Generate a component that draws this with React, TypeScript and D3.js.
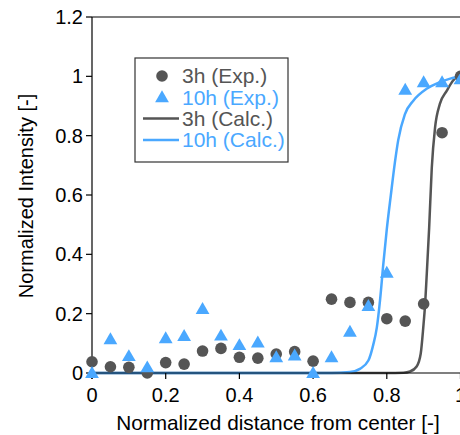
import React from 'react';
import * as d3 from 'd3';

// distances (normalized) where samples were taken
const distances = [0, 0.05, 0.1, 0.15, 0.2, 0.25, 0.3, 0.35, 0.4, 0.45, 0.5, 0.55, 0.6, 0.65, 0.7, 0.75, 0.8, 0.85, 0.9, 0.95, 1.0];
const exp3h = [0.038, 0.021, 0.019, 0.0, 0.035, 0.03, 0.074, 0.083, 0.053, 0.05, 0.064, 0.072, 0.04, 0.249, 0.238, 0.238, 0.183, 0.175, 0.233, 0.81, 1.0];
const exp10h = [0.0, 0.114, 0.057, 0.019, 0.117, 0.125, 0.216, 0.126, 0.094, 0.103, 0.053, 0.059, 0.0, 0.053, 0.139, 0.226, 0.338, 0.955, 0.98, 0.98, 0.99];

// calculated curves
const calc10hX = [0, 0.5, 0.65, 0.7, 0.727, 0.75, 0.763, 0.773, 0.782, 0.79, 0.8, 0.811, 0.822, 0.831, 0.849, 0.872, 0.908, 0.944, 0.99, 1.0];
const calc10hY = [0, 0, 0, 0.003, 0.014, 0.042, 0.094, 0.154, 0.25, 0.36, 0.485, 0.6, 0.71, 0.785, 0.872, 0.918, 0.958, 0.98, 0.997, 0.998];
const calc3hX = [0, 0.5, 0.8, 0.845, 0.863, 0.881, 0.892, 0.899, 0.904, 0.908, 0.915, 0.922, 0.931, 0.944, 0.963, 0.98, 0.994, 1.0];
const calc3hY = [0, 0, 0, 0.001, 0.005, 0.022, 0.065, 0.154, 0.233, 0.323, 0.491, 0.69, 0.828, 0.907, 0.952, 0.986, 1.0, 1.0];

const xTicks = [0, 0.2, 0.4, 0.6, 0.8, 1];
const yTicks = [0, 0.2, 0.4, 0.6, 0.8, 1, 1.2];

const legendItems = [
  { label: '3h (Exp.)', kind: 'circle', color: '#555555' },
  { label: '10h (Exp.)', kind: 'triangle', color: '#4aa8ff' },
  { label: '3h (Calc.)', kind: 'line', color: '#555555' },
  { label: '10h (Calc.)', kind: 'line', color: '#4aa8ff' },
];

const GRAY = '#555555';
const BLUE = '#4aa8ff';
const FONT = 'Liberation Sans, Arial, sans-serif';

export default function App() {
  const width = 460;
  const height = 435;

  const x = d3.scaleLinear().domain([0, 1]).range([92, 460.5]);
  const y = d3.scaleLinear().domain([0, 1.2]).range([373, 17]);

  const line = d3.line<[number, number]>()
    .x(d => x(d[0]))
    .y(d => y(d[1]))
    .curve(d3.curveMonotoneX);

  const path10h = line(calc10hX.map((v, i) => [v, calc10hY[i]]));
  const path3h = line(calc3hX.map((v, i) => [v, calc3hY[i]]));
  const tri = d3.symbol(d3.symbolTriangle, 82)();

  const legendX = 135;
  const legendY = 58;
  const rowH = 21.3;

  return (
    <svg width={width} height={height} style={{ position: 'absolute', left: 0, top: 0 }} fontFamily={FONT}>
      <rect width={width} height={height} fill="#fff" />

      {/* curves */}
      <path d={path3h ?? ''} fill="none" stroke={GRAY} strokeWidth={2.5} />
      <path d={path10h ?? ''} fill="none" stroke={BLUE} strokeWidth={2.5} />

      {/* axes */}
      <line x1={x(0)} x2={width} y1={y(0)} y2={y(0)} stroke="#000" strokeWidth={1.2} />
      <line x1={x(0)} x2={width} y1={y(1.2)} y2={y(1.2)} stroke="#000" strokeWidth={1.2} />
      <line x1={x(0)} x2={x(0)} y1={y(1.2)} y2={y(0) + 6} stroke="#000" strokeWidth={1.2} />
      {yTicks.map(t => (
        <g key={'y' + t}>
          <line x1={x(0) - 6} x2={x(0)} y1={y(t)} y2={y(t)} stroke="#000" strokeWidth={1.2} />
          <text x={x(0) - 9} y={y(t)} dy="0.35em" textAnchor="end" fontSize={20} fill="#000">{t}</text>
        </g>
      ))}
      {xTicks.map(t => (
        <g key={'x' + t}>
          <line x1={x(t)} x2={x(t)} y1={y(0)} y2={y(0) + 6} stroke="#000" strokeWidth={1.2} />
          <text x={x(t)} y={y(0) + 29} textAnchor="middle" fontSize={20} fill="#000">{t}</text>
        </g>
      ))}
      <text x={278} y={430} textAnchor="middle" fontSize={20.8} fill="#000">Normalized distance from center [-]</text>
      <text transform="translate(33,196) rotate(-90)" textAnchor="middle" fontSize={20} fill="#000">Normalized Intensity [-]</text>

      {/* data markers */}
      {distances.map((d, i) => (
        <circle key={'c' + i} cx={x(d)} cy={y(exp3h[i])} r={5.8} fill={GRAY} />
      ))}
      {distances.map((d, i) => (
        <path key={'t' + i} d={tri ?? ''} transform={`translate(${x(d)},${y(exp10h[i]) + 1})`} fill={BLUE} />
      ))}

      {/* legend */}
      <rect x={legendX} y={legendY} width={153} height={104} fill="#fff" stroke="#333" strokeWidth={1.2} />
      {legendItems.map((item, i) => {
        const cy = legendY + 18 + i * rowH;
        return (
          <g key={item.label}>
            {item.kind === 'circle' && <circle cx={162} cy={cy} r={5.8} fill={item.color} />}
            {item.kind === 'triangle' && <path d={tri ?? ''} transform={`translate(162,${cy + 1})`} fill={item.color} />}
            {item.kind === 'line' && <line x1={143} x2={179} y1={cy} y2={cy} stroke={item.color} strokeWidth={2.5} />}
            <text x={182} y={cy} dy="0.35em" fontSize={21} fill={item.color}>{item.label}</text>
          </g>
        );
      })}
    </svg>
  );
}
